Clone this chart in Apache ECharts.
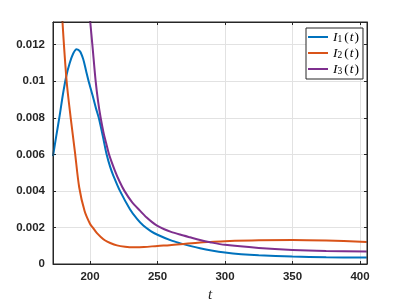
<!DOCTYPE html>
<html><head><meta charset="utf-8">
<script src="https://cdn.jsdelivr.net/npm/echarts@6/dist/echarts.min.js"></script>
<style>html,body{margin:0;padding:0;background:#fff}#c{width:405px;height:304px}</style>
</head><body><div id="c"></div>
<script>
// Data
const seriesNames = ['I1(t)', 'I2(t)', 'I3(t)'];
const i1T = [172.6, 175, 177.5, 180, 182.5, 185, 187.5, 190, 192.6, 195, 197, 199, 202, 204.5, 206.5, 209.5, 212.3, 215, 217.5, 222.2, 229.6, 235, 239.5, 245, 250, 260, 267, 274, 281.5, 290, 300, 312, 325, 350, 375, 405];
const i1V = [0.0059, 0.0070, 0.0081, 0.0093, 0.0103, 0.0110, 0.0115, 0.01175, 0.01163, 0.0112, 0.0106, 0.0100, 0.0092, 0.0085, 0.0080, 0.0070, 0.0060, 0.0053, 0.0048, 0.0040, 0.0030, 0.00245, 0.00210, 0.00180, 0.00160, 0.00129, 0.00113, 0.00099, 0.00086, 0.00074, 0.00063, 0.00054, 0.00048, 0.00041, 0.00037, 0.00035];
const i2T = [172.6, 175, 177.5, 179.5, 182.7, 185.7, 188.9, 192, 196, 200, 202, 205, 208, 211, 215, 220, 226, 232, 240, 250, 259, 267, 281.5, 289, 300, 325, 350, 375, 405];
const i2V = [0.0235, 0.0200, 0.0163, 0.0134, 0.0100, 0.0080, 0.0061, 0.0042, 0.0029, 0.0022, 0.0020, 0.0017, 0.00148, 0.0013, 0.00115, 0.00102, 0.00095, 0.00092, 0.00093, 0.00099, 0.00103, 0.00108, 0.00118, 0.00121, 0.00125, 0.00130, 0.00131, 0.00128, 0.00121];
const i3T = [196, 198, 200, 202, 204.2, 206, 207.9, 210, 212, 214.1, 218.5, 222, 225.5, 231, 237, 242, 246, 250, 255, 260, 266.7, 274, 281.5, 289, 300, 325, 350, 375, 405];
const i3V = [0.0170, 0.0152, 0.0134, 0.0118, 0.0100, 0.0089, 0.0080, 0.0072, 0.0066, 0.0060, 0.0051, 0.0045, 0.0040, 0.0034, 0.00292, 0.00254, 0.00229, 0.00208, 0.00190, 0.00176, 0.00161, 0.00146, 0.00131, 0.00119, 0.00105, 0.00088, 0.00077, 0.00071, 0.00068];
const xMin = 172.6, xMax = 405.2;
const yMin = 0, yMax = 0.01324, yStep = 0.002;
const xName = 't';

const colors = ['#0072BD', '#D95319', '#7E2F8E'];
const axisColor = '#262626';
const gridColor = '#e2e2e2';
const zip = (t, v) => t.map((x, i) => [x, v[i]]);
const seriesData = [zip(i1T, i1V), zip(i2T, i2V), zip(i3T, i3V)];
// plot-box outline follows the axis extents
const frameData = [[xMin, yMin], [xMax, yMin], [xMax, yMax], [xMin, yMax], [xMin, yMin]];

const chart = echarts.init(document.getElementById('c'), null, {renderer: 'canvas'});
const labelFont = {color: axisColor, fontFamily: 'Liberation Sans, Arial, sans-serif', fontSize: 11.5, fontWeight: 'bold'};
const mathFont = 'Liberation Serif, Times New Roman, serif';
const mkLine = () => ({show: true, onZero: false, lineStyle: {color: axisColor, width: 1, opacity: 1}});
const mkTick = () => ({show: true, inside: true, length: 3, lineStyle: {color: axisColor, width: 1, opacity: 1}});
const mkSplit = () => ({show: true, showMinLine: false, showMaxLine: false, lineStyle: {color: gridColor, width: 1}});
const boxAxis = () => ({
  axisLine: mkLine(),
  axisTick: mkTick(),
  axisLabel: {show: false},
  splitLine: {show: false}
});
const lineSeries = seriesNames.map((n, k) => ({
  name: n, type: 'line', xAxisIndex: 0, yAxisIndex: 0, z: 2,
  data: seriesData[k], showSymbol: false, symbol: 'none',
  smooth: 0.3, clip: true,
  lineStyle: {width: 2, color: colors[k]}, itemStyle: {color: colors[k]}
}));
lineSeries.push({
  name: 'frame', type: 'line', xAxisIndex: 0, yAxisIndex: 0, z: 3,
  data: frameData, showSymbol: false, symbol: 'none', smooth: false, clip: false,
  silent: true, tooltip: {show: false}, legendHoverLink: false,
  lineStyle: {width: 1, color: axisColor}, itemStyle: {color: axisColor}
});
chart.setOption({
  animation: false,
  backgroundColor: '#fff',
  color: colors,
  grid: {left: 53, right: 38, top: 22, bottom: 40, containLabel: false, outerBoundsMode: 'none'},
  legend: {
    left: 306, top: 28, orient: 'vertical', z: 12,
    padding: [2, 3, 3, 2], itemGap: 2, itemWidth: 20, itemHeight: 2,
    icon: 'rect',
    backgroundColor: '#fff', borderColor: axisColor, borderWidth: 1, borderRadius: 0,
    data: seriesNames,
    formatter: function (name) {
      const m = name.match(/^([A-Za-z])(\d)\((\w)\)$/);
      return '{i|' + m[1] + '}{s|' + m[2] + '}{p|(}{i|' + m[3] + '}{p|)}';
    },
    textStyle: {
      color: '#000', lineHeight: 14,
      rich: {
        i: {fontFamily: mathFont, fontStyle: 'italic', fontSize: 13.5, lineHeight: 14, color: '#000'},
        p: {fontFamily: mathFont, fontSize: 13.5, lineHeight: 14, color: '#000', padding: [0, 1, 0, 1]},
        s: {fontFamily: mathFont, fontSize: 9.5, lineHeight: 9, verticalAlign: 'bottom', color: '#000', padding: [0, 1, 0, 0]}
      }
    }
  },
  xAxis: [Object.assign({
    type: 'value', min: xMin, max: xMax, position: 'bottom',
    name: xName, nameLocation: 'middle', nameGap: 17,
    nameTextStyle: {fontFamily: mathFont, fontStyle: 'italic', fontSize: 15, color: axisColor}
  }, boxAxis(), {
    axisLabel: Object.assign({show: true, margin: 7, showMinLabel: false, showMaxLabel: false}, labelFont),
    splitLine: mkSplit()
  }), Object.assign({type: 'value', min: xMin, max: xMax, position: 'top'}, boxAxis())],
  yAxis: [Object.assign({
    type: 'value', min: yMin, max: yMax, interval: yStep, position: 'left'
  }, boxAxis(), {
    axisLabel: Object.assign({show: true, margin: 8, showMaxLabel: false, formatter: v => String(+v.toFixed(4))}, labelFont),
    splitLine: mkSplit()
  }), Object.assign({type: 'value', min: yMin, max: yMax, interval: yStep, position: 'right'}, boxAxis())],
  series: lineSeries
});
</script></body></html>
